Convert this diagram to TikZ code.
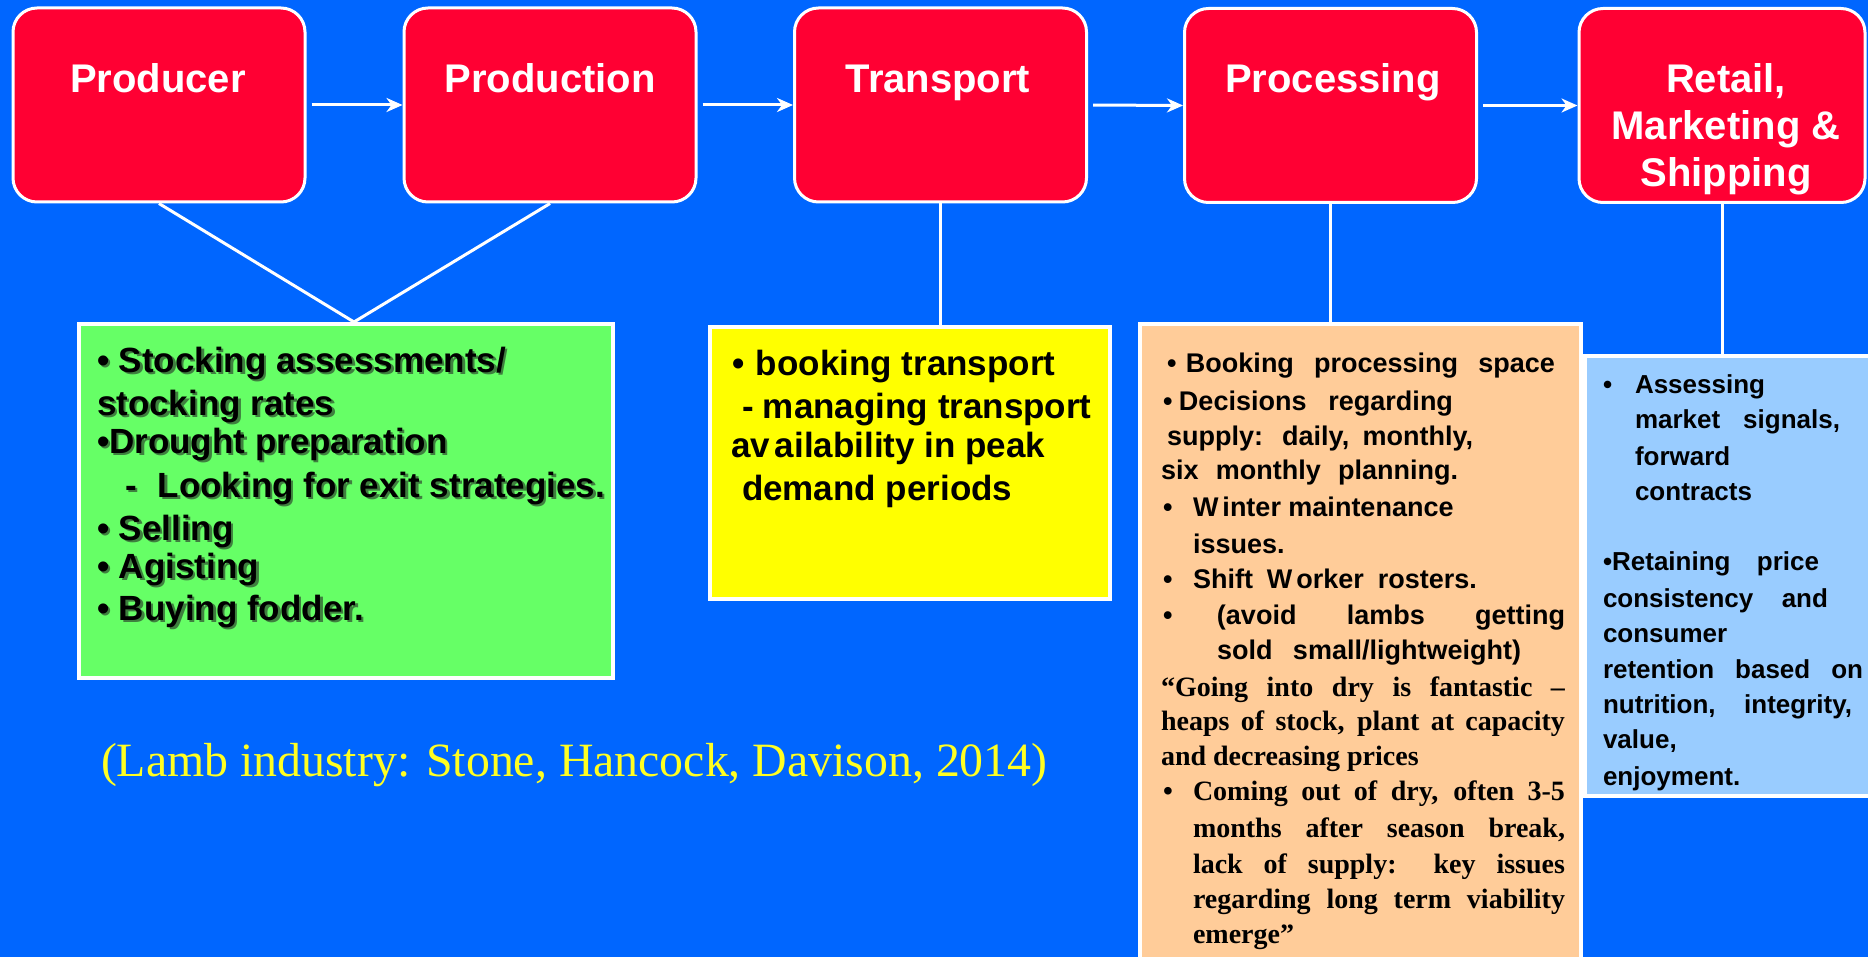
\documentclass[tikz,border=0pt]{standalone}
\usepackage{fontspec}
\setmainfont{Liberation Sans}
\newfontfamily\quotefont{Liberation Serif}
\usetikzlibrary{arrows.meta}

\definecolor{bgblue}{HTML}{0066FF}
\definecolor{stagered}{HTML}{FF0033}
\definecolor{notegreen}{HTML}{66FF66}
\definecolor{noteyellow}{HTML}{FFFF00}
\definecolor{notepeach}{HTML}{FFCC99}
\definecolor{noteblue}{HTML}{99CCFF}
\definecolor{citeyellow}{HTML}{FFFF22}
\definecolor{shadowgreen}{HTML}{3F7F3F}

\begin{document}
\begin{tikzpicture}[x=1pt, y=-1pt,
  stage/.style={draw=white, line width=3pt, fill=stagered, rounded corners=24pt,
    minimum width=292pt, minimum height=194pt, inner sep=0pt},
  stagelabel/.style={anchor=base, inner sep=0pt, text=white,
    font=\fontsize{40}{47}\selectfont\bfseries},
  note/.style={draw=white, line width=4pt, inner sep=0pt},
  flow/.style={draw=white, line width=3pt, shorten <=5pt,
    -{Stealth[length=16pt, width=14pt, inset=5pt]}},
  link/.style={draw=white, line width=3pt},
  txt/.style={anchor=base west, inner sep=0pt, outer sep=0pt},
  bigtxt/.style={txt, font=\fontsize{35}{42}\selectfont\bfseries},
  midtxt/.style={txt, font=\fontsize{27}{33}\selectfont\bfseries},
  quotetxt/.style={txt, font=\fontsize{28}{33}\selectfont\quotefont\bfseries},
  smalltxt/.style={txt, font=\fontsize{26}{31}\selectfont\bfseries},
  cite/.style={txt, text=citeyellow, font=\fontsize{47.8}{54}\selectfont\quotefont}
]
% background
\fill[bgblue] (0,0) rectangle (1868,957);
\useasboundingbox (0,0) rectangle (1868,957);

% supply chain stages
\node[stage] (producer) at (159,105) {};
\node[stage] (production) at (550,105) {};
\node[stage] (transport) at (940.5,105) {};
\node[stage] (processing) at (1330.5,105.5) {};
\node[stage, minimum width=286pt] (retail) at (1722,105.5) {};

\node[stagelabel] (producerL) at (158,93) {Producer};
\node[stagelabel] (productionL) at (550,93) {Production};
\node[stagelabel] (transportL) at (938,93) {Transport};
\node[stagelabel] (processingL) at (1333,93) {Processing};
\node[stagelabel] (retailL1) at (1726,93) {Retail,};
\node[stagelabel] (retailL2) at (1726,140) {Marketing \&};
\node[stagelabel] (retailL3) at (1726,187) {Shipping};

% flow between stages
\draw[flow] (producer.east) -- (production.west);
\draw[flow] (production.east) -- (transport.west);
\draw[flow] (transport.east) -- (processing.west);
\draw[flow] (processing.east) -- (retail.west);

% issue boxes
\node[note, fill=notegreen, minimum width=534pt, minimum height=354pt] (green) at (346,501) {};
\node[note, fill=noteyellow, minimum width=400pt, minimum height=272pt] (yellow) at (910,463) {};
\node[note, fill=notepeach, minimum width=441pt, minimum height=656pt] (peach) at (1360.5,652) {};
\node[note, fill=noteblue, minimum width=295pt, minimum height=440pt] (blue) at (1732.5,576) {};

% links from stages to their issues
\coordinate (apex) at (354,322);
\draw[link] (producer.south) -- (apex);
\draw[link] (production.south) -- (apex);
\draw[link] (transport.south) -- (transport.south |- yellow.north);
\draw[link] (processing.south) -- (processing.south |- peach.north);
\draw[link] (retail.south) -- (retail.south |- blue.north);

% producer / production issues (with drop shadow)
\newcommand\shadowline[4]{%
  \node[bigtxt, text=shadowgreen] (#1s) at (#2+2.5,#3+2.5) {#4};
  \node[bigtxt] (#1) at (#2,#3) {#4};}
\shadowline{g1}{97}{372}{• Stocking assessments/}
\shadowline{g2}{97}{415}{stocking rates}
\shadowline{g3}{97}{453}{•Drought preparation}
\shadowline{g4}{125}{497}{-\hspace{21pt}Looking for exit strategies.}
\shadowline{g5}{97}{540}{• Selling}
\shadowline{g6}{97}{578}{• Agisting}
\shadowline{g7}{97}{620}{• Buying fodder.}

% transport issues
\node[bigtxt] (y1) at (732,375) {\makebox[24pt][l]{•}booking transport};
\node[bigtxt] (y2) at (742,418) {\makebox[21pt][l]{-}managing transport};
\node[bigtxt] (y3) at (731,457) {av\kern5pt ailability in peak};
\node[bigtxt] (y4) at (742,500) {demand periods};

% processing issues
\node[midtxt] (p1) at (1167,373) {\makebox[19pt][l]{•}\makebox[369pt][s]{Booking processing space}};
\node[midtxt] (p2) at (1163,410) {\makebox[16pt][l]{•}\makebox[274pt][s]{Decisions regarding}};
\node[midtxt] (p3) at (1167,445) {\makebox[306pt][s]{supply: daily, monthly,}};
\node[midtxt] (p4) at (1161,479) {\makebox[297pt][s]{six monthly planning.}};
\node[midtxt] (p5) at (1163,516) {\makebox[30pt][l]{•}W\kern4pt inter maintenance};
\node[midtxt] (p6) at (1193,553) {issues.};
\node[midtxt] (p7) at (1163,588) {\makebox[30pt][l]{•}\makebox[284pt][s]{Shift W\kern4pt orker rosters.}};
\node[midtxt] (p8) at (1163,624) {\makebox[54pt][l]{•}\makebox[348pt][s]{(avoid lambs getting}};
\node[midtxt] (p9) at (1217,659) {\makebox[304pt][s]{sold small/lightweight)}};
\node[quotetxt] (q1) at (1161,696) {\makebox[404pt][s]{“Going into dry is fantastic –}};
\node[quotetxt] (q2) at (1161,730) {\makebox[404pt][s]{heaps of stock, plant at capacity}};
\node[quotetxt] (q3) at (1161,765) {and decreasing prices};
\node[quotetxt] (q4) at (1163,800) {\makebox[30pt][l]{•}\makebox[372pt][s]{Coming out of dry, often 3-5}};
\node[quotetxt] (q5) at (1193,837) {\makebox[372pt][s]{months after season break,}};
\node[quotetxt] (q6) at (1193,873) {\makebox[372pt][s]{lack of supply: key issues}};
\node[quotetxt] (q7) at (1193,908) {\makebox[372pt][s]{regarding long term viability}};
\node[quotetxt] (q8) at (1193,943) {emerge”};

% retail issues
\node[smalltxt] (b1) at (1603,393) {\makebox[32pt][l]{•}Assessing};
\node[smalltxt] (b2) at (1635,428) {\makebox[205pt][s]{market signals,}};
\node[smalltxt] (b3) at (1635,465) {forward};
\node[smalltxt] (b4) at (1635,500) {contracts};
\node[smalltxt] (b5) at (1603,570) {\makebox[216pt][s]{•Retaining price}};
\node[smalltxt] (b6) at (1603,607) {\makebox[225pt][s]{consistency and}};
\node[smalltxt] (b7) at (1603,642) {consumer};
\node[smalltxt] (b8) at (1603,678) {\makebox[260pt][s]{retention based on}};
\node[smalltxt] (b9) at (1603,713) {\makebox[249pt][s]{nutrition, integrity,}};
\node[smalltxt] (b10) at (1603,748) {value,};
\node[smalltxt] (b11) at (1603,785) {enjoyment.};

% source
\node[cite] (citation) at (101,776) {(Lamb industry: Stone, Hancock, Davison, 2014)};
\end{tikzpicture}
\end{document}
